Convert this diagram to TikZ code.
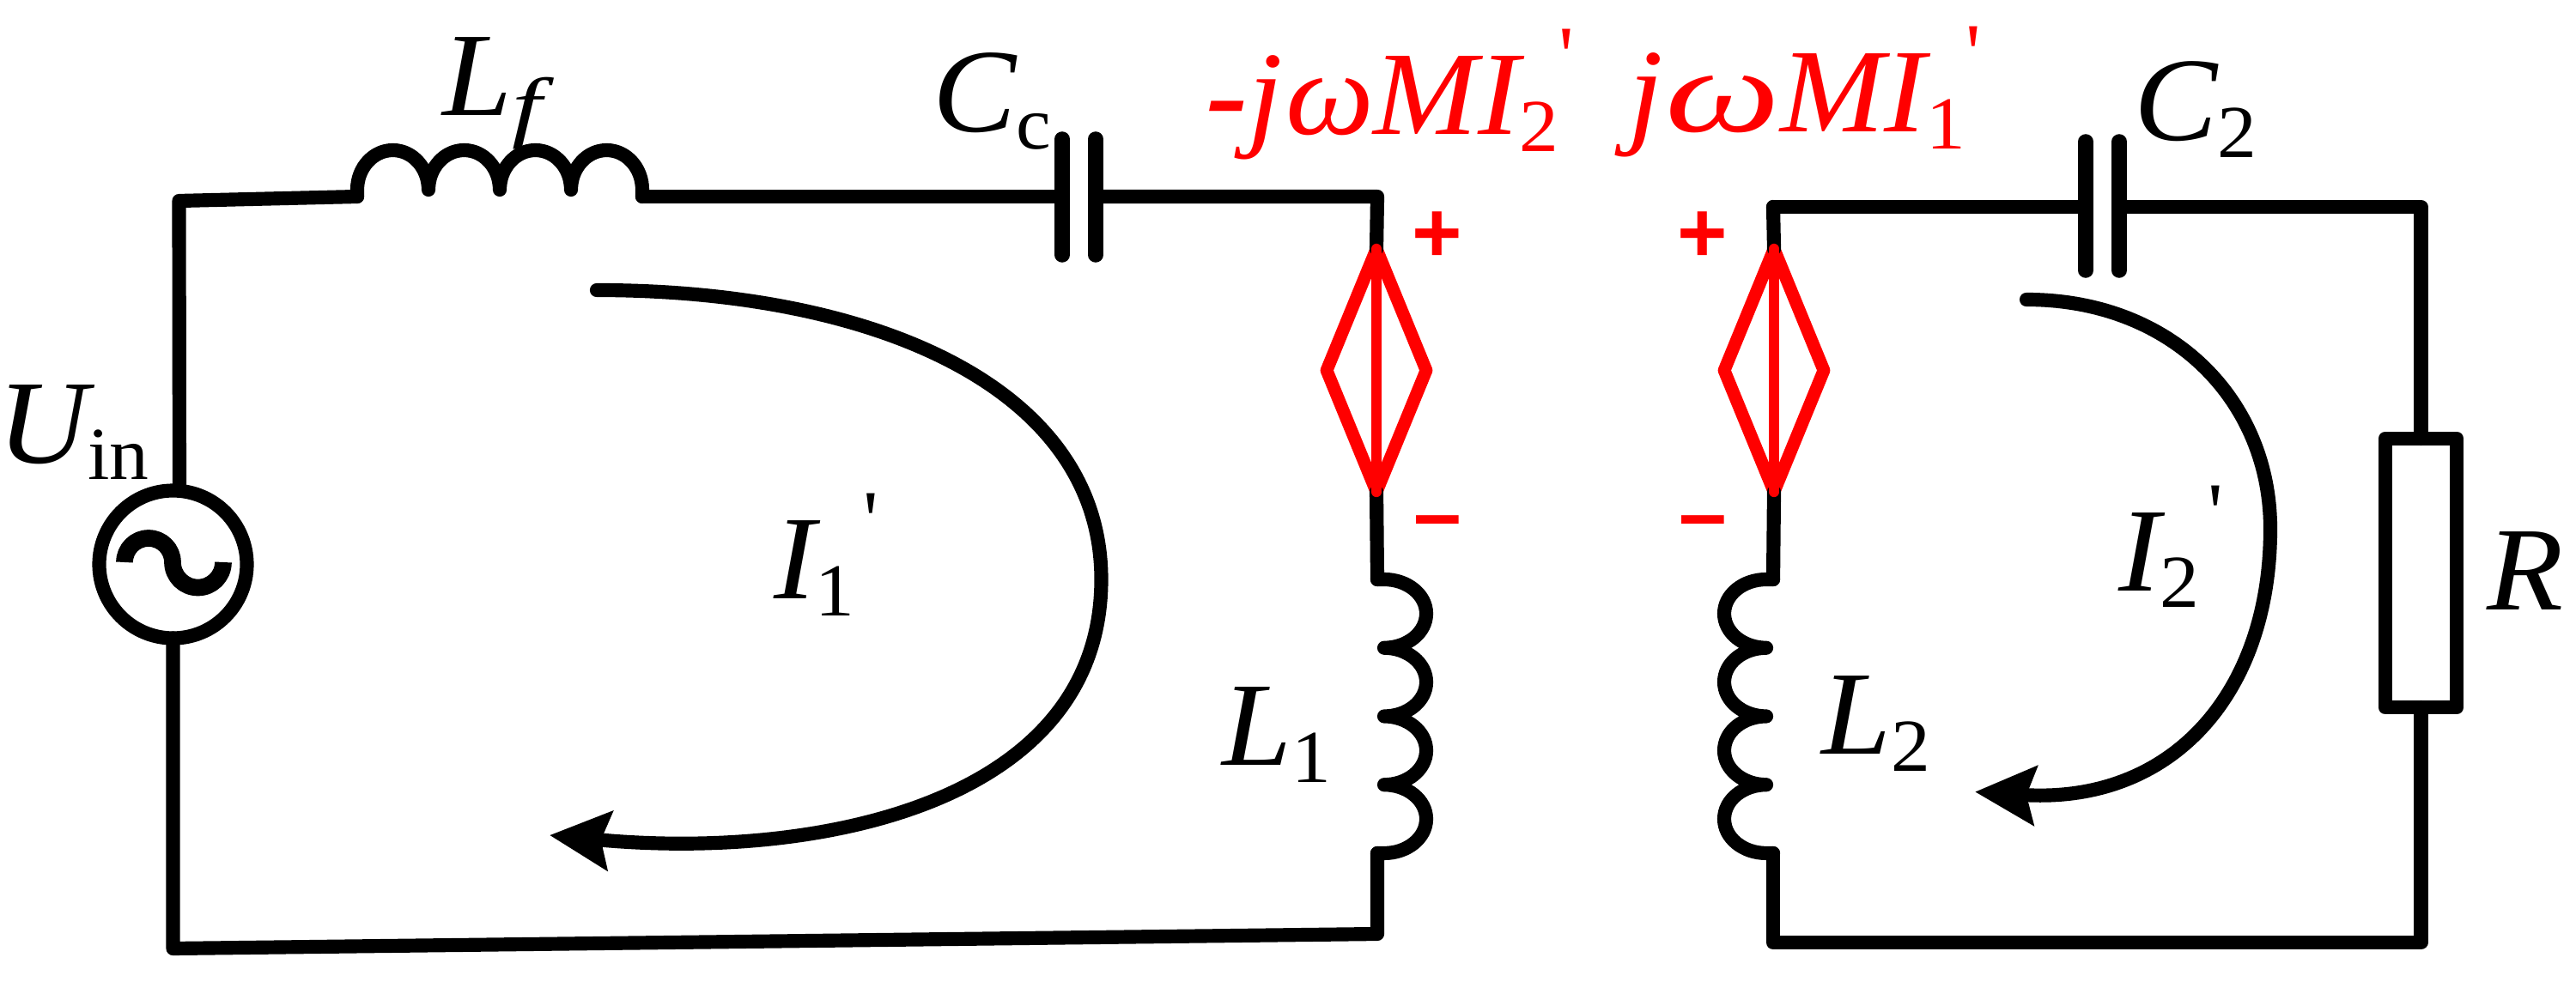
\documentclass[tikz,border=0pt]{standalone}
\usepackage{fontspec}
\setmainfont[FakeStretch=1.05]{Liberation Serif}
\newfontfamily\primefont{Liberation Serif}
\newfontfamily\signfont{Liberation Sans}
\usetikzlibrary{arrows.meta,shapes.geometric}
\newcommand{\lowsub}[1]{\raisebox{-.2cm}{\fontsize{24.8}{25}\selectfont\upshape #1}}
\newcommand{\primed}{\raisebox{.58cm}{\fontsize{28}{28}\selectfont\primefont\upshape '}}
\begin{document}
\begin{tikzpicture}[inner sep=0pt,outer sep=0pt,line width=4.6pt,line join=round,line cap=round,
lab/.style={anchor=base west,font=\fontsize{39.5}{40}\selectfont\itshape},
redlab/.style={lab,text=red},
sign/.style={text=red,font=\fontsize{28.5}{29}\selectfont\signfont\bfseries},
vsource/.style={draw=red,diamond,minimum width=1.16cm,minimum height=2.83cm,line width=4.2pt},
acsource/.style={draw,circle,minimum size=1.72cm,line width=4.6pt},
resbox/.style={draw,rectangle,minimum width=.835cm,minimum height=3.13cm},
plate/.style={line width=5pt},
loopcur/.style={line width=4.6pt,-{Stealth[length=.7cm,width=.68cm,inset=.1cm]}}]
\useasboundingbox (0,0) rectangle (30,11.57);
\draw (2.015,4.995) node[acsource] (Uin) {};
\draw (16.03,7.255) node[vsource] (E1) {};
\draw (20.66,7.255) node[vsource] (E2) {};
\draw (28.195,4.895) node[resbox] (R) {};
\coordinate (tl1) at (2.085,9.23);
\coordinate (Lfa) at (4.16,9.28);
\coordinate (Lfb) at (7.48,9.28);
\coordinate (Cca) at (12.37,9.28);
\coordinate (Ccb) at (12.76,9.28);
\coordinate (tr1) at (16.04,9.28);
\coordinate (L1a) at (16.04,4.82);
\coordinate (L1b) at (16.04,1.63);
\coordinate (br1) at (16.04,.69);
\coordinate (bl1) at (2.015,.52);
\coordinate (tl2) at (20.65,9.16);
\coordinate (Cra) at (24.29,9.16);
\coordinate (Crb) at (24.68,9.16);
\coordinate (tr2) at (28.195,9.16);
\coordinate (br2) at (28.195,.59);
\coordinate (bl2) at (20.65,.59);
\coordinate (L2a) at (20.65,4.82);
\coordinate (L2b) at (20.65,1.63);
% wires
\draw (Uin.85) -- (tl1) -- (Lfa);
\draw (Lfb) -- (Cca);
\draw (Ccb) -- (tr1) -- (E1.north);
\draw (E1.south) -- (L1a);
\draw (L1b) -- (br1) -- (bl1) -- (Uin.south);
\draw (tl2) -- (Cra);
\draw (Crb) -- (tr2) -- (R.north);
\draw (R.south) -- (br2) -- (bl2) -- (L2b);
\draw (L2a) -- (E2.south);
\draw (E2.north) -- (tl2);
% capacitors
\draw[plate] (Cca) ++(0,.67) -- ++(0,-1.35);
\draw[plate] (Ccb) ++(0,.67) -- ++(0,-1.35);
\draw[plate] (Cra) ++(0,.76) -- ++(0,-1.5);
\draw[plate] (Crb) ++(0,.76) -- ++(0,-1.5);
% coils
\draw (Lfa) -- ++(0,.08) foreach \i in {1,...,4} {arc[start angle=180,end angle=0,x radius=.415,y radius=.46]} -- (Lfb);
\draw (L1a) -- ++(.08,0) foreach \i in {1,...,4} {arc[start angle=90,end angle=-90,x radius=.49,y radius=.3987]} -- (L1b);
\draw (L2a) -- ++(-.08,0) foreach \i in {1,...,4} {arc[start angle=90,end angle=270,x radius=.49,y radius=.3987]} -- (L2b);
% source wave
\draw[line width=5.6pt,line cap=butt] (1.45,5.02) arc[start angle=180,end angle=0,radius=.28] arc[start angle=180,end angle=360,radius=.295];
% controlled sources
\draw[red,line width=3.5pt] (E1.north) -- (E1.south);
\draw[red,line width=3.5pt] (E2.north) -- (E2.south);
\draw (16.74,8.81) node[sign] (p1) {+};
\draw (16.74,5.40) node[sign] (m1) {–};
\draw (19.83,8.81) node[sign] (p2) {+};
\draw (19.83,5.40) node[sign] (m2) {–};
% loop currents
\draw[loopcur] (6.95,8.19) .. controls (10.2,8.19) and (12.825,7.05) .. (12.825,4.82) .. controls (12.825,2.2) and (9.5,1.55) .. (6.4,1.84);
\draw[loopcur] (23.6,8.08) .. controls (25.3,8.08) and (26.44,6.9) .. (26.44,5.41) .. controls (26.44,3.5) and (25.3,2.2) .. (23.0,2.345);
% labels
\draw (-.03,6.18) node[lab] (lUin) {U\lowsub{in}};
\draw (5.15,10.22) node[lab] (lLf) {L\lowsub{\fontsize{26}{26}\selectfont\itshape\scalebox{1.3}[1]{f}}};
\draw (10.86,10.035) node[lab] (lCc) {C\lowsub{c}};
\draw (14.05,10.005) node[redlab] (lE1) {\textbf{-}j\kern.03cm ωMI\lowsub{2}\primed};
\draw (18.96,10.035) node[redlab] (lE2) {j\kern.03cm \scalebox{1.3}[1]{ω}MI\lowsub{1}\primed};
\draw (24.85,9.93) node[lab] (lC2) {C\lowsub{2}};
\draw (9.01,4.60) node[lab] (lI1) {I\lowsub{1}\kern.1cm\primed};
\draw (24.67,4.69) node[lab] (lI2) {I\lowsub{2}\kern.1cm\primed};
\draw (14.23,2.655) node[lab] (lL1) {L\lowsub{1}};
\draw (21.21,2.79) node[lab] (lL2) {L\lowsub{2}};
\draw (28.96,4.47) node[lab] (lR) {R};
\end{tikzpicture}
\end{document}
